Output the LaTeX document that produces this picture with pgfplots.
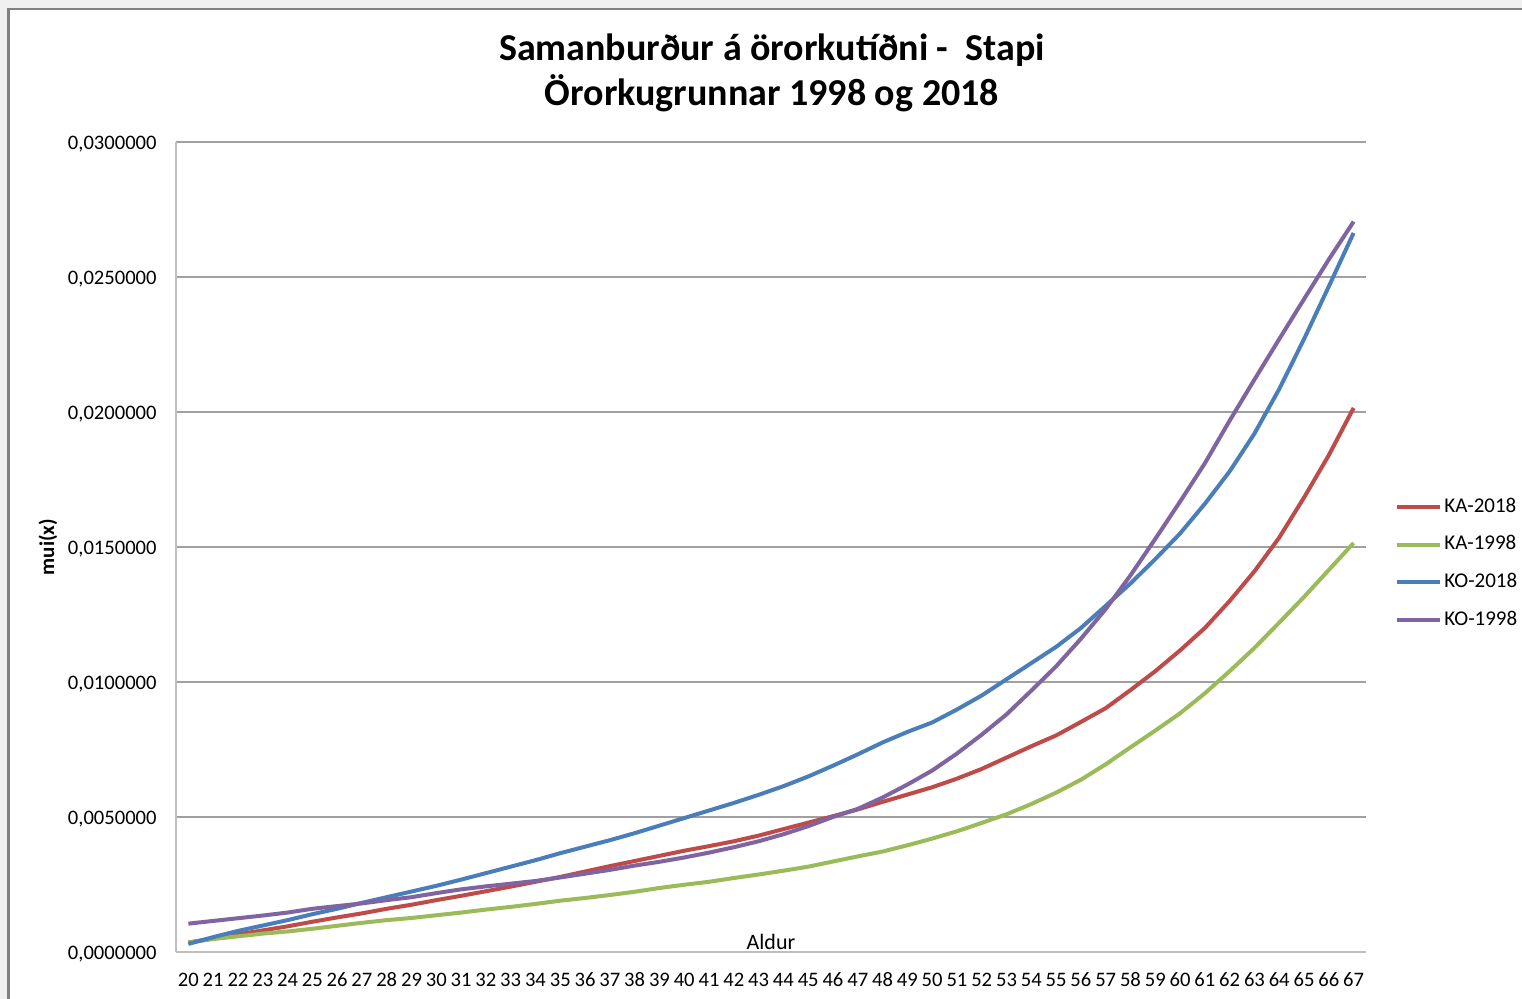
\documentclass[border=0pt]{standalone}
\usepackage{fontspec}
\setmainfont{Carlito}
\usepackage{pgfplots}
\usepackage{pgfplotstable}
\pgfplotsset{compat=1.18}
\definecolor{ka18}{HTML}{BE4B48}
\definecolor{ka98}{HTML}{9BBB59}
\definecolor{ko18}{HTML}{4A7EBB}
\definecolor{ko98}{HTML}{8064A2}
\definecolor{gridc}{HTML}{A0A0A0}
\definecolor{axc}{HTML}{BEBEBE}
\pgfplotstableread{
age ka18 ka98 ko18 ko98
20 0.00035 0.00035 0.00030 0.00105
21 0.00050 0.00048 0.00055 0.00115
22 0.00065 0.00058 0.00078 0.00125
23 0.00080 0.00068 0.00098 0.00135
24 0.00095 0.00076 0.00118 0.00146
25 0.00112 0.00086 0.00140 0.00160
26 0.00128 0.00097 0.00160 0.00170
27 0.00143 0.00108 0.00182 0.00180
28 0.00160 0.00118 0.00203 0.00192
29 0.00175 0.00126 0.00224 0.00203
30 0.00192 0.00136 0.00245 0.00218
31 0.00208 0.00146 0.00268 0.00232
32 0.00225 0.00157 0.00292 0.00243
33 0.00242 0.00167 0.00316 0.00253
34 0.00260 0.00178 0.00340 0.00263
35 0.00278 0.00190 0.00366 0.00276
36 0.00298 0.00200 0.00390 0.00290
37 0.00318 0.00211 0.00414 0.00304
38 0.00337 0.00223 0.00440 0.00320
39 0.00356 0.00237 0.00468 0.00334
40 0.00375 0.00249 0.00496 0.00350
41 0.00392 0.00260 0.00524 0.00368
42 0.00410 0.00274 0.00552 0.00388
43 0.00431 0.00287 0.00582 0.00410
44 0.00455 0.00301 0.00614 0.00436
45 0.00479 0.00316 0.00650 0.00466
46 0.00503 0.00335 0.00690 0.00500
47 0.00528 0.00354 0.00732 0.00530
48 0.00556 0.00372 0.00776 0.00572
49 0.00583 0.00395 0.00815 0.00620
50 0.00610 0.00420 0.00850 0.00672
51 0.00642 0.00447 0.00898 0.00735
52 0.00678 0.00478 0.00950 0.00805
53 0.00720 0.00510 0.01010 0.00880
54 0.00762 0.00548 0.01070 0.00968
55 0.00802 0.00590 0.01130 0.01058
56 0.00852 0.00638 0.01200 0.01160
57 0.00903 0.00695 0.01282 0.01270
58 0.00970 0.00758 0.01365 0.01395
59 0.01040 0.00820 0.01455 0.01530
60 0.01117 0.00884 0.01550 0.01668
61 0.01200 0.00958 0.01660 0.01810
62 0.01300 0.01040 0.01780 0.01968
63 0.01410 0.01126 0.01920 0.02120
64 0.01535 0.01220 0.02085 0.02270
65 0.01683 0.01315 0.02270 0.02418
66 0.01840 0.01415 0.02465 0.02565
67 0.02015 0.01515 0.02663 0.02705
}\mydata
\begin{document}
\begin{tikzpicture}
\useasboundingbox (0,0) rectangle (761pt,499.5pt);
\fill[black!6] (0,0) rectangle (761pt,499.5pt);
\fill[white] (4.3pt,-5pt) rectangle (770pt,495pt);
\draw[black!50, line width=1.2pt] (4.3pt,-5pt) -- (4.3pt,495pt) -- (770pt,495pt);
\node[anchor=base, font=\fontsize{19}{22}\selectfont\bfseries] at (386pt,469.2pt) {Samanburður á örorkutíðni -\ \ Stapi};
\node[anchor=base, font=\fontsize{19}{22}\selectfont\bfseries] at (386pt,446.5pt) {Örorkugrunnar 1998 og 2018};
\begin{axis}[
  scale only axis,
  width=595pt, height=405pt,
  at={(88pt,23.5pt)}, anchor=south west,
  xmin=19.5, xmax=67.5,
  ymin=0, ymax=0.03,
  xtick={20,...,67},
  ytick={0,0.005,0.01,0.015,0.02,0.025,0.03},
  scaled y ticks=false,
  y tick label style={/pgf/number format/fixed, /pgf/number format/fixed zerofill, /pgf/number format/precision=7, /pgf/number format/use comma, /pgf/number format/1000 sep={}},
  /pgf/number format/assume math mode=true,
  tick style={draw=none},
  major tick length=0pt,
  axis x line*=bottom, axis y line*=left,
  axis line style={axc, line width=0.8pt, -},
  ymajorgrids,
  grid style={gridc, line width=0.7pt},
  ticklabel style={font=\fontsize{10.3}{12}\selectfont, text=black},
  xticklabel style={anchor=base, yshift=-17.5pt, inner sep=0pt},
  yticklabel style={anchor=east, inner sep=0pt, xshift=-9.5pt, yshift=-1pt},
  xlabel={Aldur},
  xlabel style={at={(axis description cs:0.5,0)}, anchor=south, inner sep=0pt, yshift=1pt, font=\fontsize{11}{13}\selectfont},
  ylabel={mui(x)},
  ylabel style={at={(axis description cs:-0.1076,0.5)}, anchor=center, rotate=0, font=\fontsize{10.5}{12}\selectfont\bfseries},
  legend style={draw=none, fill=none, at={(1.0244,0.4795)}, anchor=west,
    font=\fontsize{10.5}{12}\selectfont, row sep=7.85pt, inner sep=0pt,
    nodes={inner sep=1pt, text height=7pt, text depth=2pt}},
  legend cell align=left,
  legend image code/.code={\draw[#1, line width=2pt] (0pt,0pt) -- (21.5pt,0pt);},
  every axis plot/.append style={line width=2pt, mark=none, line join=round},
]
\addplot[ka18] table[x=age,y=ka18] {\mydata};
\addlegendentry{KA-2018}
\addplot[ka98] table[x=age,y=ka98] {\mydata};
\addlegendentry{KA-1998}
\addplot[ko18] table[x=age,y=ko18] {\mydata};
\addlegendentry{KO-2018}
\addplot[ko98] table[x=age,y=ko98] {\mydata};
\addlegendentry{KO-1998}
\end{axis}
\end{tikzpicture}
\end{document}
